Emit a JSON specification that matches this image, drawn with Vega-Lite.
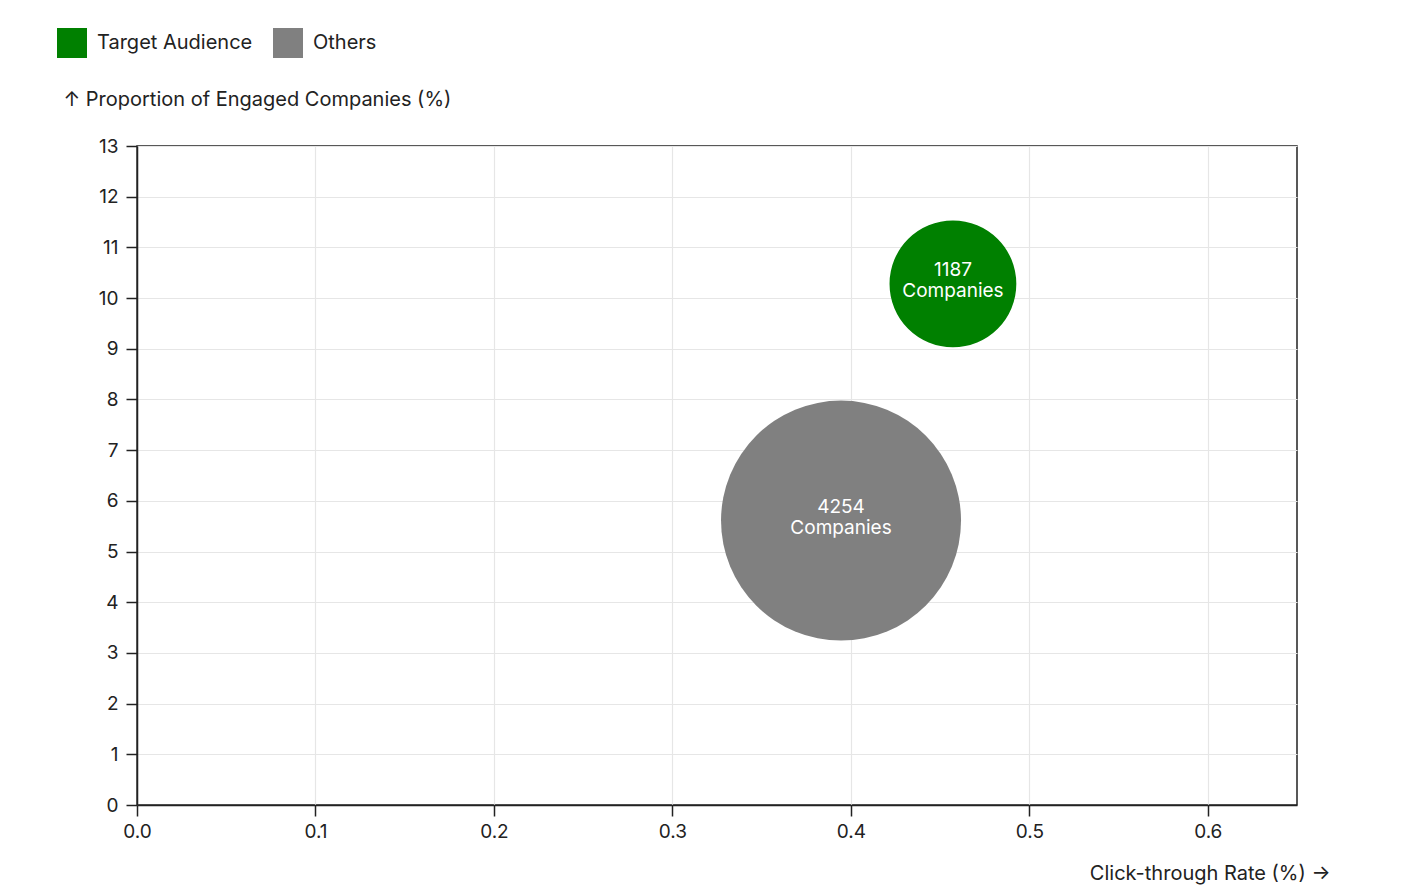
{
  "$schema": "https://vega.github.io/schema/vega-lite/v6.json",
  "width": 1160,
  "height": 659,
  "autosize": {"type": "none"},
  "padding": {"left": 137, "top": 146, "right": 115, "bottom": 82},
  "background": "white",
  "config": {
    "font": "Inter",
    "view": {"stroke": "#222", "strokeWidth": 1.5},
    "axis": {
      "labelFont": "Inter",
      "titleFont": "Inter",
      "labelFontSize": 19,
      "titleFontSize": 20,
      "titleFontWeight": "normal",
      "labelColor": "#222",
      "titleColor": "#222",
      "tickColor": "#222",
      "domainColor": "#222",
      "domainWidth": 1.5,
      "tickWidth": 1.5,
      "tickSize": 11,
      "labelFlush": false,
      "gridColor": "#e6e6e6",
      "gridWidth": 1.2
    },
    "legend": {"labelFont": "Inter", "labelFontSize": 20, "labelColor": "#222"}
  },
  "data": {
    "values": [
      {"group": "Target Audience", "ctr": 0.4572, "engaged": 10.28, "companies": 1187, "label": "1187\nCompanies"},
      {"group": "Others", "ctr": 0.3945, "engaged": 5.61, "companies": 4254, "label": "4254\nCompanies"}
    ]
  },
  "encoding": {
    "x": {
      "field": "ctr",
      "type": "quantitative",
      "scale": {"domain": [0, 0.65], "nice": false, "zero": true},
      "axis": {
        "title": "Click-through Rate (%) →",
        "values": [0, 0.1, 0.2, 0.3, 0.4, 0.5, 0.6],
        "format": ".1f",
        "labelPadding": 6,
        "titleAnchor": "end",
        "titleAlign": "right",
        "titleX": 1193,
        "titleY": 68,
        "titleBaseline": "middle"
      }
    },
    "y": {
      "field": "engaged",
      "type": "quantitative",
      "scale": {"domain": [0, 13], "nice": false},
      "axis": {
        "title": "↑ Proportion of Engaged Companies (%)",
        "values": [0, 1, 2, 3, 4, 5, 6, 7, 8, 9, 10, 11, 12, 13],
        "labelPadding": 8,
        "titleAngle": 0,
        "titleAlign": "left",
        "titleBaseline": "middle",
        "titleX": -74,
        "titleY": -47
      }
    }
  },
  "layer": [
    {
      "mark": {"type": "circle", "opacity": 1},
      "encoding": {
        "size": {
          "field": "companies",
          "type": "quantitative",
          "scale": {"domain": [0, 4254], "range": [0, 57600]},
          "legend": null
        },
        "color": {
          "field": "group",
          "type": "nominal",
          "scale": {"domain": ["Target Audience", "Others"], "range": ["#008000", "#808080"]},
          "legend": {
            "title": null,
            "orient": "none",
            "direction": "horizontal",
            "legendX": -80,
            "legendY": -118,
            "symbolType": "square",
            "symbolSize": 900,
            "symbolStrokeWidth": 0,
            "symbolOpacity": 1,
            "labelOffset": 10,
            "columnPadding": 20
          }
        }
      }
    },
    {
      "mark": {"type": "text", "color": "white", "fontSize": 19, "lineBreak": "\n", "lineHeight": 21, "align": "center", "baseline": "middle", "dy": -14},
      "encoding": {"text": {"field": "label"}}
    }
  ]
}
